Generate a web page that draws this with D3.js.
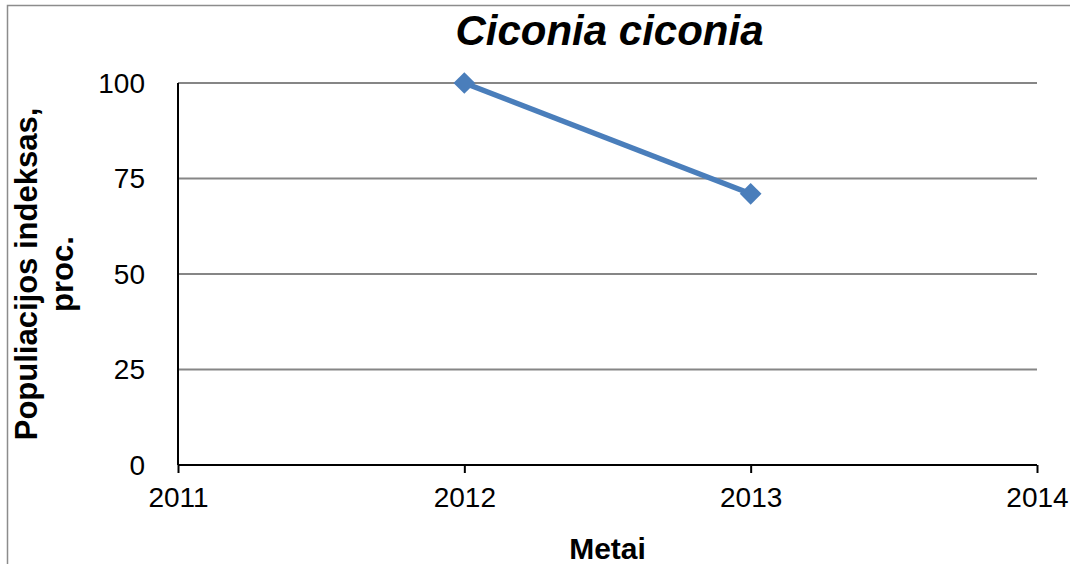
<!DOCTYPE html>
<html>
<head>
<meta charset="utf-8">
<script src="https://cdn.jsdelivr.net/npm/d3@7"></script>
<style>
  body { margin: 0; background: #fff; }
  svg { display: block; font-family: "Liberation Sans", Arial, sans-serif; }
</style>
</head>
<body>
<script>
const years = [2012, 2013];
const indexValues = [100, 71];
const xTicks = [2011, 2012, 2013, 2014];
const yTicks = [0, 25, 50, 75, 100];

const width = 1070, height = 564;
const margin = {top: 83, right: 33, bottom: 99, left: 178};

const x = d3.scaleLinear().domain([2011, 2014]).range([margin.left, width - margin.right]);
const y = d3.scaleLinear().domain([0, 100]).range([height - margin.bottom, margin.top]);

const svg = d3.select("body").append("svg")
    .attr("width", width)
    .attr("height", height);

// outer chart frame (only top/left edges visible)
svg.append("path")
    .attr("d", `M7.5,${height}V5.5H${width}`)
    .attr("fill", "none")
    .attr("stroke", "#8c8c8c")
    .attr("stroke-width", 1.5);

// gridlines
svg.append("g")
    .attr("stroke", "#868686")
    .attr("stroke-width", 2)
  .selectAll("line")
  .data(yTicks.filter(d => d > 0))
  .join("line")
    .attr("x1", margin.left)
    .attr("x2", width - margin.right)
    .attr("y1", d => y(d))
    .attr("y2", d => y(d));

// y axis labels
svg.append("g")
    .attr("font-size", 28)
    .attr("text-anchor", "end")
  .selectAll("text")
  .data(yTicks)
  .join("text")
    .attr("x", 145)
    .attr("y", d => y(d))
    .attr("dy", "0.35em")
    .text(d => d);

// y axis line
svg.append("line")
    .attr("x1", margin.left).attr("x2", margin.left)
    .attr("y1", y(100)).attr("y2", y(0))
    .attr("stroke", "#000").attr("stroke-width", 2);

// x axis
const xAxis = svg.append("g")
    .attr("transform", `translate(0,${y(0)})`)
    .call(d3.axisBottom(x).tickValues(xTicks).tickFormat(d3.format("d")).tickSize(8).tickPadding(14));
xAxis.select(".domain").attr("stroke", "#000").attr("stroke-width", 2).attr("d", `M${margin.left},0H${width - margin.right}`);
xAxis.selectAll(".tick line").attr("stroke", "#000").attr("stroke-width", 2);
xAxis.selectAll(".tick text")
    .attr("font-size", 28)
    .attr("font-family", "'Liberation Sans', Arial, sans-serif")
    .attr("fill", "#000");

// series line
const pts = years.map((d, i) => [d, indexValues[i]]);
svg.append("path")
    .datum(pts)
    .attr("fill", "none")
    .attr("stroke", "#4a7ebb")
    .attr("stroke-width", 5.5)
    .attr("d", d3.line().x(d => x(d[0])).y(d => y(d[1])));

svg.append("g")
    .attr("fill", "#4a7ebb")
  .selectAll("path")
  .data(pts)
  .join("path")
    .attr("transform", d => `translate(${x(d[0])},${y(d[1])})`)
    .attr("d", d3.symbol(d3.symbolDiamond2, 300));

// title
svg.append("text")
    .attr("x", (margin.left + width - margin.right) / 2 + 2)
    .attr("y", 45)
    .attr("text-anchor", "middle")
    .attr("font-size", 42)
    .attr("font-weight", "bold")
    .attr("font-style", "italic")
    .text("Ciconia ciconia");

// x title
svg.append("text")
    .attr("x", (margin.left + width - margin.right) / 2)
    .attr("y", 559)
    .attr("text-anchor", "middle")
    .attr("font-size", 30)
    .attr("font-weight", "bold")
    .text("Metai");

// y title
const yt = svg.append("text")
    .attr("transform", `translate(0,${(y(0) + y(100)) / 2}) rotate(-90)`)
    .attr("text-anchor", "middle")
    .attr("font-size", 31)
    .attr("font-weight", "bold");
yt.append("tspan").attr("x", 0).attr("y", 37).text("Populiacijos indeksas,");
yt.append("tspan").attr("x", 0).attr("y", 73).text("proc.");
</script>
</body>
</html>
